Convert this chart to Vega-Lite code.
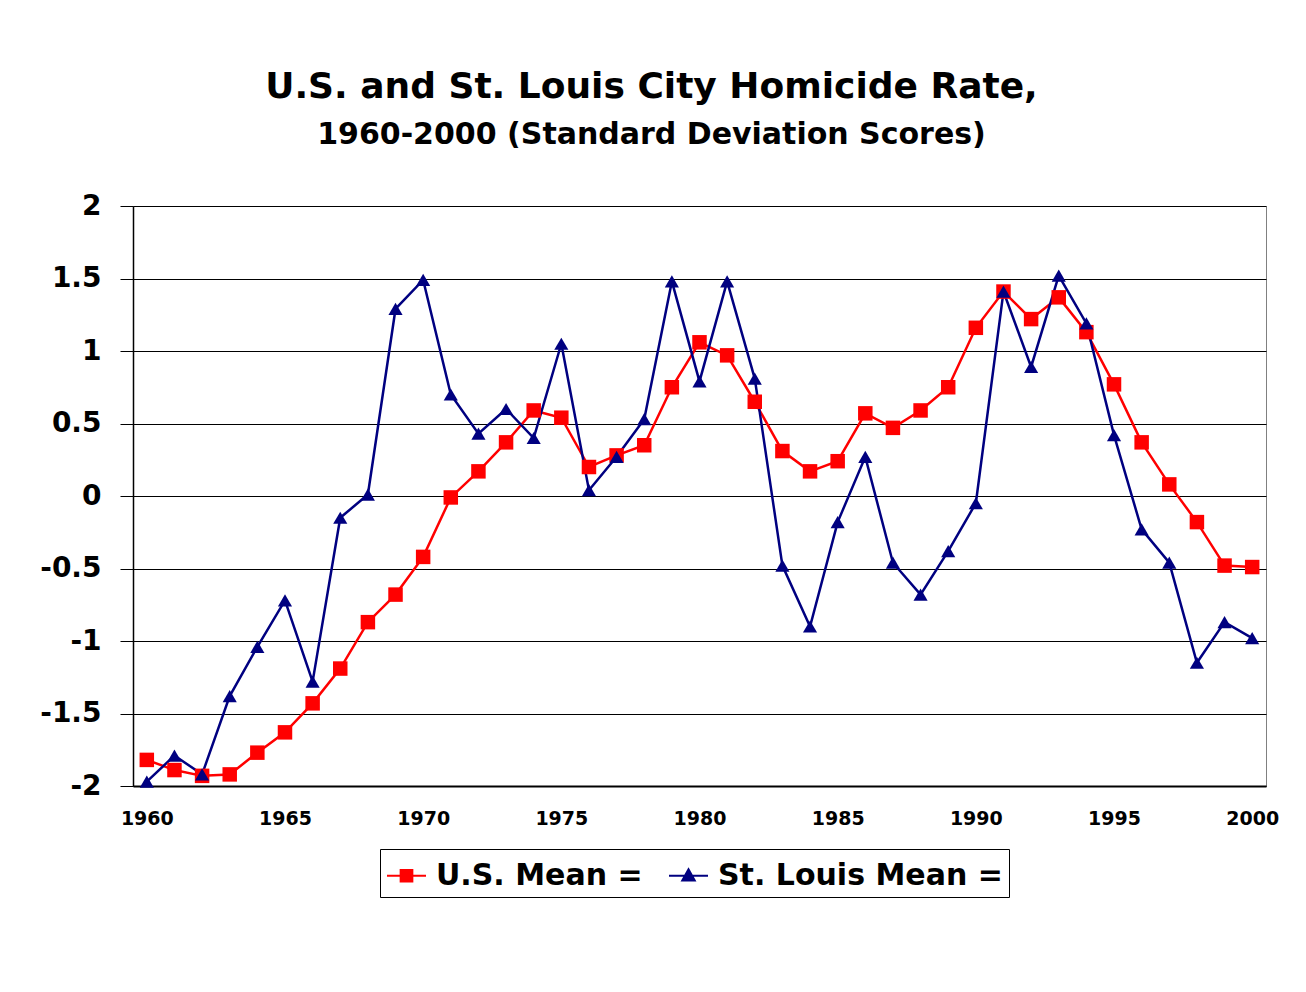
{
  "$schema": "https://vega.github.io/schema/vega-lite/v6.json",
  "width": 1133,
  "height": 580,
  "autosize": "none",
  "padding": {"left": 133, "top": 206, "right": 40, "bottom": 206},
  "background": "white",
  "title": {
    "text": "U.S. and St. Louis City Homicide Rate,",
    "subtitle": "1960-2000 (Standard Deviation Scores)",
    "font": "DejaVu Sans",
    "fontSize": 36,
    "fontWeight": "bold",
    "color": "black",
    "subtitleFont": "DejaVu Sans",
    "subtitleFontSize": 30,
    "subtitleFontWeight": "bold",
    "subtitleColor": "black",
    "anchor": "middle",
    "frame": "group",
    "dx": -48,
    "offset": 41,
    "subtitlePadding": 14
  },
  "config": {
    "view": {"stroke": "#808080", "strokeWidth": 1}
  },
  "data": {
    "values": [
      {"year": 1960, "series": "U.S. Mean =", "value": -1.82},
      {"year": 1961, "series": "U.S. Mean =", "value": -1.89},
      {"year": 1962, "series": "U.S. Mean =", "value": -1.93},
      {"year": 1963, "series": "U.S. Mean =", "value": -1.92},
      {"year": 1964, "series": "U.S. Mean =", "value": -1.77},
      {"year": 1965, "series": "U.S. Mean =", "value": -1.63},
      {"year": 1966, "series": "U.S. Mean =", "value": -1.43},
      {"year": 1967, "series": "U.S. Mean =", "value": -1.19},
      {"year": 1968, "series": "U.S. Mean =", "value": -0.87},
      {"year": 1969, "series": "U.S. Mean =", "value": -0.68},
      {"year": 1970, "series": "U.S. Mean =", "value": -0.42},
      {"year": 1971, "series": "U.S. Mean =", "value": -0.01},
      {"year": 1972, "series": "U.S. Mean =", "value": 0.17},
      {"year": 1973, "series": "U.S. Mean =", "value": 0.37},
      {"year": 1974, "series": "U.S. Mean =", "value": 0.59},
      {"year": 1975, "series": "U.S. Mean =", "value": 0.54},
      {"year": 1976, "series": "U.S. Mean =", "value": 0.20},
      {"year": 1977, "series": "U.S. Mean =", "value": 0.28},
      {"year": 1978, "series": "U.S. Mean =", "value": 0.35},
      {"year": 1979, "series": "U.S. Mean =", "value": 0.75},
      {"year": 1980, "series": "U.S. Mean =", "value": 1.06},
      {"year": 1981, "series": "U.S. Mean =", "value": 0.97},
      {"year": 1982, "series": "U.S. Mean =", "value": 0.65},
      {"year": 1983, "series": "U.S. Mean =", "value": 0.31},
      {"year": 1984, "series": "U.S. Mean =", "value": 0.17},
      {"year": 1985, "series": "U.S. Mean =", "value": 0.24},
      {"year": 1986, "series": "U.S. Mean =", "value": 0.57},
      {"year": 1987, "series": "U.S. Mean =", "value": 0.47},
      {"year": 1988, "series": "U.S. Mean =", "value": 0.59},
      {"year": 1989, "series": "U.S. Mean =", "value": 0.75},
      {"year": 1990, "series": "U.S. Mean =", "value": 1.16},
      {"year": 1991, "series": "U.S. Mean =", "value": 1.41},
      {"year": 1992, "series": "U.S. Mean =", "value": 1.22},
      {"year": 1993, "series": "U.S. Mean =", "value": 1.37},
      {"year": 1994, "series": "U.S. Mean =", "value": 1.13},
      {"year": 1995, "series": "U.S. Mean =", "value": 0.77},
      {"year": 1996, "series": "U.S. Mean =", "value": 0.37},
      {"year": 1997, "series": "U.S. Mean =", "value": 0.08},
      {"year": 1998, "series": "U.S. Mean =", "value": -0.18},
      {"year": 1999, "series": "U.S. Mean =", "value": -0.48},
      {"year": 2000, "series": "U.S. Mean =", "value": -0.49},
      {"year": 1960, "series": "St. Louis Mean =", "value": -1.97},
      {"year": 1961, "series": "St. Louis Mean =", "value": -1.79},
      {"year": 1962, "series": "St. Louis Mean =", "value": -1.92},
      {"year": 1963, "series": "St. Louis Mean =", "value": -1.38},
      {"year": 1964, "series": "St. Louis Mean =", "value": -1.04},
      {"year": 1965, "series": "St. Louis Mean =", "value": -0.72},
      {"year": 1966, "series": "St. Louis Mean =", "value": -1.28},
      {"year": 1967, "series": "St. Louis Mean =", "value": -0.15},
      {"year": 1968, "series": "St. Louis Mean =", "value": 0.01},
      {"year": 1969, "series": "St. Louis Mean =", "value": 1.29},
      {"year": 1970, "series": "St. Louis Mean =", "value": 1.49},
      {"year": 1971, "series": "St. Louis Mean =", "value": 0.70},
      {"year": 1972, "series": "St. Louis Mean =", "value": 0.43},
      {"year": 1973, "series": "St. Louis Mean =", "value": 0.60},
      {"year": 1974, "series": "St. Louis Mean =", "value": 0.40},
      {"year": 1975, "series": "St. Louis Mean =", "value": 1.05},
      {"year": 1976, "series": "St. Louis Mean =", "value": 0.04},
      {"year": 1977, "series": "St. Louis Mean =", "value": 0.27},
      {"year": 1978, "series": "St. Louis Mean =", "value": 0.53},
      {"year": 1979, "series": "St. Louis Mean =", "value": 1.48},
      {"year": 1980, "series": "St. Louis Mean =", "value": 0.79},
      {"year": 1981, "series": "St. Louis Mean =", "value": 1.48},
      {"year": 1982, "series": "St. Louis Mean =", "value": 0.81},
      {"year": 1983, "series": "St. Louis Mean =", "value": -0.48},
      {"year": 1984, "series": "St. Louis Mean =", "value": -0.90},
      {"year": 1985, "series": "St. Louis Mean =", "value": -0.18},
      {"year": 1986, "series": "St. Louis Mean =", "value": 0.27},
      {"year": 1987, "series": "St. Louis Mean =", "value": -0.46},
      {"year": 1988, "series": "St. Louis Mean =", "value": -0.68},
      {"year": 1989, "series": "St. Louis Mean =", "value": -0.38},
      {"year": 1990, "series": "St. Louis Mean =", "value": -0.05},
      {"year": 1991, "series": "St. Louis Mean =", "value": 1.41},
      {"year": 1992, "series": "St. Louis Mean =", "value": 0.89},
      {"year": 1993, "series": "St. Louis Mean =", "value": 1.52},
      {"year": 1994, "series": "St. Louis Mean =", "value": 1.19},
      {"year": 1995, "series": "St. Louis Mean =", "value": 0.42},
      {"year": 1996, "series": "St. Louis Mean =", "value": -0.23},
      {"year": 1997, "series": "St. Louis Mean =", "value": -0.46},
      {"year": 1998, "series": "St. Louis Mean =", "value": -1.15},
      {"year": 1999, "series": "St. Louis Mean =", "value": -0.87},
      {"year": 2000, "series": "St. Louis Mean =", "value": -0.98}
    ]
  },
  "encoding": {
    "x": {
      "field": "year",
      "type": "ordinal",
      "scale": {"type": "point", "padding": 0.5},
      "axis": {
        "title": null,
        "values": [1960, 1965, 1970, 1975, 1980, 1985, 1990, 1995, 2000],
        "labelAngle": 0,
        "ticks": false,
        "tickSize": 0,
        "labelPadding": 23,
        "labelFont": "DejaVu Sans",
        "labelFontSize": 19,
        "labelFontWeight": "bold",
        "labelColor": "black",
        "domainColor": "black",
        "domainWidth": 2,
        "grid": false
      }
    },
    "y": {
      "field": "value",
      "type": "quantitative",
      "scale": {"domain": [-2, 2], "nice": false, "zero": false},
      "axis": {
        "title": null,
        "values": [-2, -1.5, -1, -0.5, 0, 0.5, 1, 1.5, 2],
        "labelExpr": "toString(datum.value)",
        "labelFont": "DejaVu Sans",
        "labelFontSize": 28,
        "labelFontWeight": "bold",
        "labelColor": "black",
        "labelPadding": 19,
        "tickSize": 13,
        "tickColor": "black",
        "domainColor": "black",
        "domainWidth": 1.5,
        "grid": true,
        "gridColor": "black",
        "gridWidth": 1
      }
    },
    "color": {
      "field": "series",
      "type": "nominal",
      "scale": {"domain": ["U.S. Mean =", "St. Louis Mean ="], "range": ["#FF0000", "#000080"]},
      "legend": {
        "title": null,
        "orient": "none",
        "legendX": 247,
        "legendY": 643,
        "direction": "horizontal",
        "strokeColor": "black",
        "padding": 6,
        "labelFont": "DejaVu Sans",
        "labelFontSize": 30,
        "labelFontWeight": "bold",
        "labelColor": "black",
        "labelLimit": 0,
        "labelOffset": 9,
        "columnPadding": 22,
        "symbolSize": 1521,
        "symbolStrokeWidth": 2,
        "symbolOpacity": 1,
        "encode": {
          "symbols": {
            "update": {
              "shape": [
                {"test": "datum.value === 'U.S. Mean ='", "value": "M-1,0H1M-0.3,-0.3H0.3V0.3H-0.3Z"},
                {"value": "M-1,0H1M0,-0.33L0.32,0.24H-0.32Z"}
              ],
              "stroke": [
                {"test": "datum.value === 'U.S. Mean ='", "value": "#FF0000"},
                {"value": "#000080"}
              ],
              "fill": [
                {"test": "datum.value === 'U.S. Mean ='", "value": "#FF0000"},
                {"value": "#000080"}
              ],
              "strokeWidth": {"value": 2},
              "opacity": {"value": 1}
            }
          }
        }
      }
    }
  },
  "layer": [
    {
      "mark": {"type": "line", "strokeWidth": 2.5}
    },
    {
      "transform": [{"filter": "datum.series === 'U.S. Mean ='"}],
      "mark": {"type": "point", "shape": "square", "filled": true, "opacity": 1, "size": 210}
    },
    {
      "transform": [{"filter": "datum.series === 'St. Louis Mean ='"}],
      "mark": {"type": "point", "shape": "triangle-up", "filled": true, "opacity": 1, "size": 200}
    }
  ]
}
